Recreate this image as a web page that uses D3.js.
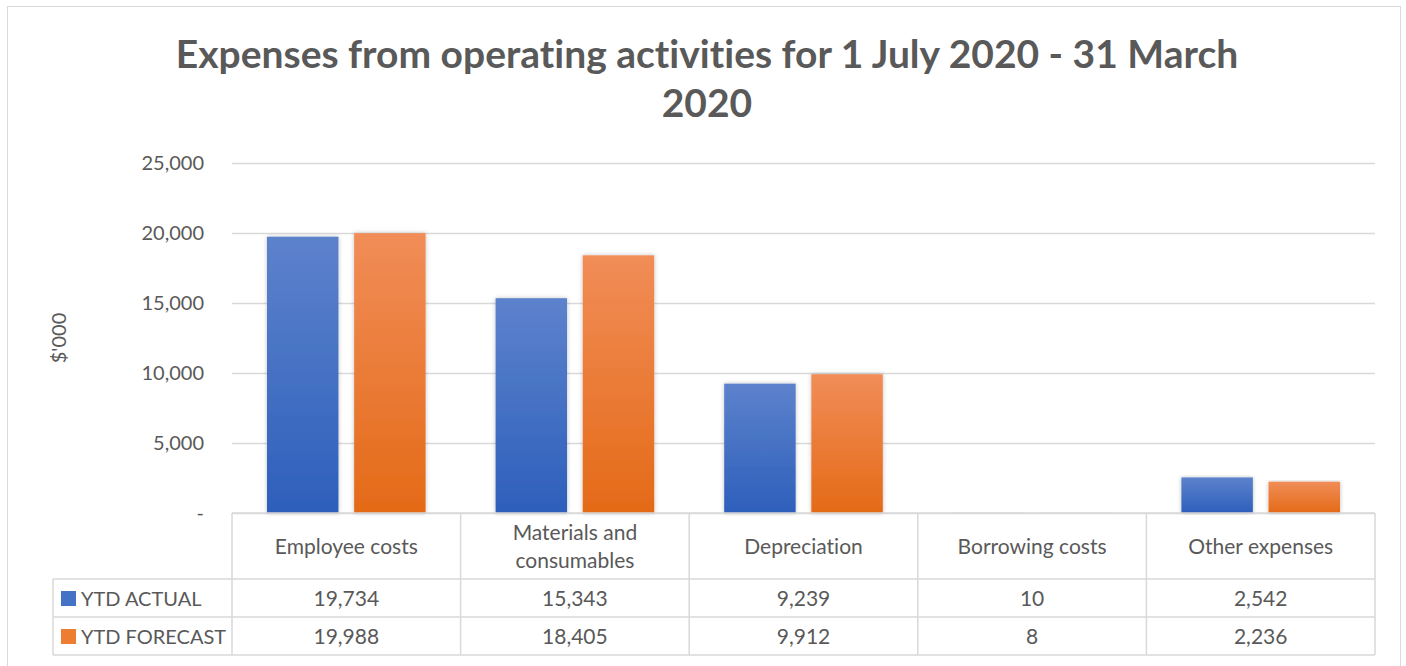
<!DOCTYPE html>
<html>
<head>
<meta charset="utf-8">
<script src="https://cdn.jsdelivr.net/npm/d3@7"></script>
<style>
body { margin: 0; background: #fff; }
text { font-family: Lato, "Open Sans", sans-serif; fill: #595959; font-variant-ligatures: none; }
</style>
</head>
<body>
<script>
var categories = ["Employee costs", "Materials and consumables", "Depreciation", "Borrowing costs", "Other expenses"];
var seriesNames = ["YTD ACTUAL", "YTD FORECAST"];
var actual = [19734, 15343, 9239, 10, 2542];
var forecast = [19988, 18405, 9912, 8, 2236];
var yTicks = [0, 5000, 10000, 15000, 20000, 25000];

var W = 1406, H = 666;
var svg = d3.select("body").append("svg").attr("width", W).attr("height", H);

var defs = svg.append("defs");
function grad(id, c1, c2) {
    var g = defs.append("linearGradient").attr("id", id)
        .attr("x1", 0).attr("y1", 0).attr("x2", 0).attr("y2", 1);
    g.append("stop").attr("offset", "0%").attr("stop-color", c1);
    g.append("stop").attr("offset", "100%").attr("stop-color", c2);
}
grad("gBlue", "#5d82cc", "#2d5fbb");
grad("gOrange", "#f18d58", "#e46a17");
var f = defs.append("filter").attr("id", "shadow").attr("x", "-20%").attr("y", "-5%").attr("width", "140%").attr("height", "110%");
f.append("feDropShadow").attr("dx", 0).attr("dy", 0).attr("stdDeviation", 2).attr("flood-color", "#000").attr("flood-opacity", 0.25);

var colors = ["url(#gBlue)", "url(#gOrange)"];
var keyColors = ["#4472c4", "#ed7d31"];

// outer frame
svg.append("rect").attr("x", 7.5).attr("y", 6.5).attr("width", 1393).attr("height", 670)
    .attr("fill", "none").attr("stroke", "#d9d9d9");

var plotLeft = 232, plotRight = 1375, plotTop = 163, plotBottom = 513;

var y = d3.scaleLinear().domain([0, 25000]).range([plotBottom, plotTop]);
var x0 = d3.scaleBand().domain(categories).range([plotLeft, plotRight]).padding(0);
var x1 = d3.scaleBand().domain(seriesNames).range([35, x0.bandwidth() - 35]).paddingInner(0.18).paddingOuter(0);

// title
var title = svg.append("text").attr("text-anchor", "middle")
    .style("font-size", "39px").style("font-weight", "bold");
title.append("tspan").attr("x", 707).attr("y", 68).text("Expenses from operating activities for 1 July 2020 - 31 March");
title.append("tspan").attr("x", 707).attr("y", 117).text("2020");

// gridlines + y axis
var yAxis = d3.axisLeft(y).tickValues(yTicks)
    .tickFormat(function (d) { return d === 0 ? "-" : d3.format(",")(d); })
    .tickSize(-(plotRight - plotLeft)).tickPadding(28);
var ga = svg.append("g").attr("transform", "translate(" + plotLeft + ",0)").call(yAxis);
ga.select(".domain").remove();
ga.selectAll(".tick line").attr("stroke", "#d9d9d9").attr("stroke-width", 1.3);
ga.selectAll(".tick text").style("font-size", "20px").style("fill", "#595959").style("font-family", "Lato, sans-serif");

svg.append("text").attr("transform", "translate(66," + ((plotTop + plotBottom) / 2) + ") rotate(-90)")
    .attr("text-anchor", "middle").style("font-size", "20px").text("$'000");

// bars
var groups = svg.selectAll("g.cat").data(categories).enter().append("g")
    .attr("class", "cat").attr("transform", function (d) { return "translate(" + x0(d) + ",0)"; });
groups.selectAll("rect").data(function (d, i) {
    return [{ s: seriesNames[0], v: actual[i], k: 0 }, { s: seriesNames[1], v: forecast[i], k: 1 }];
}).enter().append("rect")
    .attr("x", function (d) { return x1(d.s); })
    .attr("y", function (d) { return y(d.v); })
    .attr("width", x1.bandwidth())
    .attr("height", function (d) { return plotBottom - y(d.v); })
    .attr("fill", function (d) { return colors[d.k]; })
    .attr("filter", "url(#shadow)");

// data table
var rowY = [plotBottom, 579, 617, 655];
var legendLeft = 53;
var lc = "#d9d9d9";
var tbl = svg.append("g");
tbl.append("line").attr("x1", plotLeft).attr("x2", plotRight).attr("y1", rowY[0]).attr("y2", rowY[0]).attr("stroke", lc).attr("stroke-width", 1.5);
[1, 2, 3].forEach(function (i) {
    tbl.append("line").attr("x1", legendLeft).attr("x2", plotRight).attr("y1", rowY[i]).attr("y2", rowY[i]).attr("stroke", lc).attr("stroke-width", 1.5);
});
var cols = categories.map(function (c) { return x0(c); }).concat([plotRight]);
cols.forEach(function (cx) {
    tbl.append("line").attr("x1", cx).attr("x2", cx).attr("y1", rowY[0]).attr("y2", rowY[3]).attr("stroke", lc).attr("stroke-width", 1.5);
});
tbl.append("line").attr("x1", legendLeft).attr("x2", legendLeft).attr("y1", rowY[1]).attr("y2", rowY[3]).attr("stroke", lc).attr("stroke-width", 1.5);

// category labels
categories.forEach(function (c) {
    var cx = x0(c) + x0.bandwidth() / 2;
    var t = tbl.append("text").attr("text-anchor", "middle").style("font-size", "21px");
    if (c === "Materials and consumables") {
        t.append("tspan").attr("x", cx).attr("y", 540).text("Materials and");
        t.append("tspan").attr("x", cx).attr("y", 568).text("consumables");
    } else {
        t.attr("x", cx).attr("y", 554).text(c);
    }
});

// series rows
var rows = [actual, forecast];
rows.forEach(function (vals, r) {
    var cy = (rowY[r + 1] + rowY[r + 2]) / 2;
    tbl.append("rect").attr("x", 61).attr("y", cy - 7).attr("width", 15).attr("height", 15).attr("fill", keyColors[r]);
    tbl.append("text").attr("x", 81).attr("y", cy + 8).style("font-size", "20px").text(seriesNames[r]);
    vals.forEach(function (v, i) {
        tbl.append("text").attr("x", x0(categories[i]) + x0.bandwidth() / 2).attr("y", cy + 8)
            .attr("text-anchor", "middle").style("font-size", "21px").text(d3.format(",")(v));
    });
});
</script>
</body>
</html>
